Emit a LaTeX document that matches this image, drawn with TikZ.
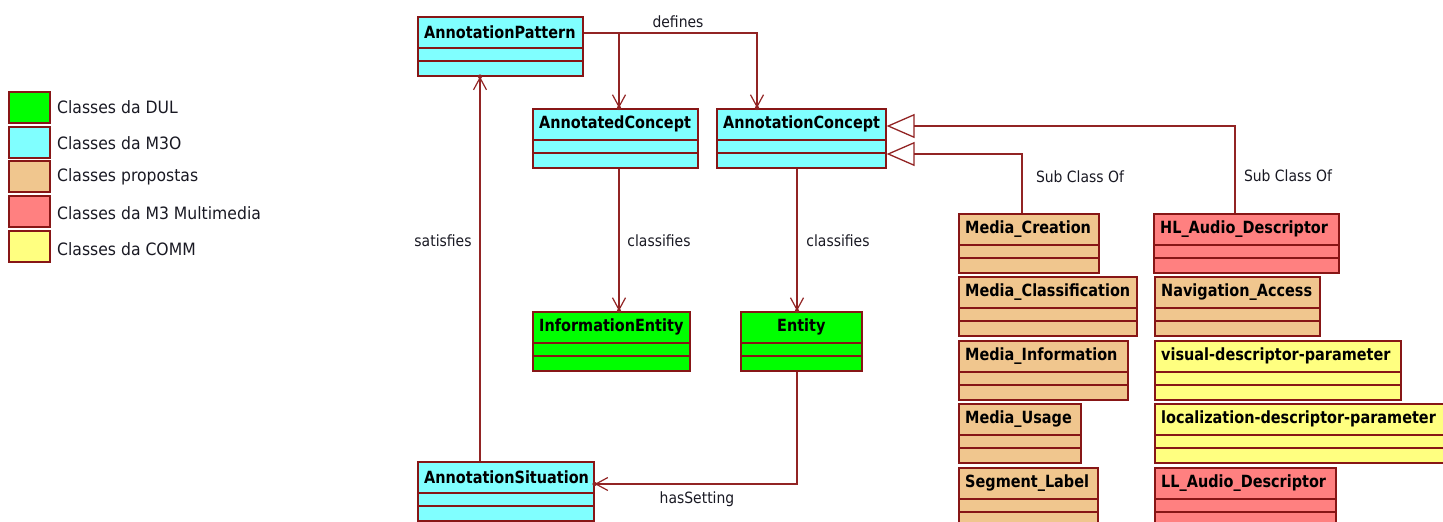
\documentclass[tikz,border=0pt]{standalone}
\usepackage{fontspec}
\usetikzlibrary{arrows.meta,calc}
\newfontfamily\titlefnt{DejaVu Sans}[FakeStretch=0.86]
\newfontfamily\labelfnt{DejaVu Sans}[FakeStretch=0.9]
\newfontfamily\legendfnt{DejaVu Sans}[FakeStretch=0.92]
\definecolor{dr}{RGB}{146,36,36}
\definecolor{boxc}{RGB}{135,22,22}
\definecolor{ccyan}{RGB}{128,255,255}
\definecolor{cgreen}{RGB}{0,255,0}
\definecolor{ctan}{RGB}{240,198,142}
\definecolor{cred}{RGB}{255,128,128}
\definecolor{cyel}{RGB}{255,255,128}
\definecolor{txt}{RGB}{25,25,35}
\newcommand\umlclass[6]{%
  \node[classbox, fill=#5, minimum width={#4-#2}, anchor=north west] (#1) at (#2,#3) {};
  \node[classtitle, anchor=west] (#1t) at ($(#1.north west)+(7,16)$) {#6};
  \draw[boxline] ($(#1.north west)+(0,32)$) -- ($(#1.north east)+(0,32)$);
  \draw[boxline] ($(#1.north west)+(0,45)$) -- ($(#1.north east)+(0,45)$);
}
\newcommand\umlclassc[6]{%
  \node[classbox, fill=#5, minimum width={#4-#2}, anchor=north west] (#1) at (#2,#3) {};
  \node[classtitle, anchor=center] (#1t) at ($(#1.north)+(0,16)$) {#6};
  \draw[boxline] ($(#1.north west)+(0,32)$) -- ($(#1.north east)+(0,32)$);
  \draw[boxline] ($(#1.north west)+(0,45)$) -- ($(#1.north east)+(0,45)$);
}
\begin{document}
\begin{tikzpicture}[x=1pt,y=-1pt,
  classbox/.style={draw=boxc, line width=1.6pt, minimum height=59pt, inner sep=0pt},
  classtitle/.style={inner sep=0pt, text=black, font=\titlefnt\bfseries\fontsize{16.8}{20}\selectfont},
  boxline/.style={draw=boxc, line width=1.5pt},
  legbox/.style={draw=boxc, line width=2pt, minimum width=41pt, minimum height=31pt, inner sep=0pt},
  legtext/.style={inner sep=0pt, text=txt, font=\legendfnt\fontsize{17}{20}\selectfont},
  lbl/.style={inner sep=0pt, text=txt, font=\labelfnt\fontsize{15.5}{18}\selectfont},
  assoc/.style={draw=dr, line width=1.5pt, -{Straight Barb[length=12pt,width=13pt,line width=1.2pt]}},
  gen/.style={draw=dr, line width=1.5pt, -{Triangle[open,length=28pt,width=24pt,fill=white,line width=1.3pt]}},
  dot/.style={fill=dr}
]
\useasboundingbox (0,0) rectangle (1443,522);

% legend
\node[legbox, fill=cgreen, anchor=north west] (lg1) at (8,91) {};
\node[legbox, fill=ccyan, anchor=north west] (lg2) at (8,126) {};
\node[legbox, fill=ctan, anchor=north west] (lg3) at (8,160) {};
\node[legbox, fill=cred, anchor=north west] (lg4) at (8,195) {};
\node[legbox, fill=cyel, anchor=north west] (lg5) at (8,230) {};
\node[legtext, anchor=west] (lt1) at (57,107) {Classes da DUL};
\node[legtext, anchor=west] (lt2) at (57,143) {Classes da M3O};
\node[legtext, anchor=west] (lt3) at (57,177) {Classes propostas};
\node[legtext, anchor=west] (lt4) at (57,213) {Classes da M3 Multimedia};
\node[legtext, anchor=west] (lt5) at (57,249) {Classes da COMM};

% classes
\umlclass{AP}{417}{16}{582}{ccyan}{AnnotationPattern}
\umlclass{AdC}{532}{108}{697}{ccyan}{AnnotatedConcept}
\umlclass{AnC}{716}{108}{885}{ccyan}{AnnotationConcept}
\umlclass{IE}{532}{311}{689}{cgreen}{InformationEntity}
\umlclassc{En}{740}{311}{861}{cgreen}{Entity}
\umlclass{AS}{417}{461}{593}{ccyan}{AnnotationSituation}
\umlclass{MC}{958}{213}{1098}{ctan}{Media\_Creation}
\umlclass{MCl}{958}{276}{1136}{ctan}{Media\_Classification}
\umlclass{MI}{958}{340}{1127}{ctan}{Media\_Information}
\umlclass{MU}{958}{403}{1080}{ctan}{Media\_Usage}
\umlclass{SL}{958}{467}{1097}{ctan}{Segment\_Label}
\umlclass{HL}{1153}{213}{1338}{cred}{HL\_Audio\_Descriptor}
\umlclass{NA}{1154}{276}{1319}{ctan}{Navigation\_Access}
\umlclass{VDP}{1154}{340}{1400}{cyel}{visual-descriptor-parameter}
\umlclass{LDP}{1154}{403}{1452}{cyel}{localization-descriptor-parameter}
\umlclass{LL}{1154}{467}{1335}{cred}{LL\_Audio\_Descriptor}

% guide coordinates
\coordinate (xd) at (757,0);
\coordinate (xc1) at (619,0);
\coordinate (xc2) at (797,0);
\coordinate (xs) at (480,0);
\coordinate (xg1) at (1022,0);
\coordinate (xg2) at (1235,0);
\coordinate (dstart) at ($(AP.north east)+(0,17)$);
\coordinate (hs) at ($(AS.north east)+(0,23)$);
\coordinate (g1e) at ($(AnC.north east)+(0,46)$);
\coordinate (g2e) at ($(AnC.north east)+(0,18)$);

% defines
\draw[assoc] (dstart) -| (xd |- AnC.north);
\draw[assoc] (dstart -| xc1) -- (xc1 |- AdC.north);
\fill[dot] (xd |- AnC.north) circle (2.2pt);
\fill[dot] (xc1 |- AdC.north) circle (2.2pt);
\node[lbl] (ldef) at (678,22) {defines};

% satisfies
\draw[assoc] (xs |- AS.north) -- (xs |- AP.south);
\fill[dot] (xs |- AP.south) circle (2.2pt);
\node[lbl] (lsat) at (443,241) {satisfies};

% classifies
\draw[assoc] (xc1 |- AdC.south) -- (xc1 |- IE.north);
\fill[dot] (xc1 |- IE.north) circle (2.2pt);
\node[lbl] (lcl1) at (659,241) {classifies};
\draw[assoc] (xc2 |- AnC.south) -- (xc2 |- En.north);
\fill[dot] (xc2 |- En.north) circle (2.2pt);
\node[lbl] (lcl2) at (838,241) {classifies};

% hasSetting
\draw[assoc] (xc2 |- En.south) |- (hs);
\fill[dot] (hs) circle (2.2pt);
\node[lbl] (lhs) at (697,499) {hasSetting};

% generalizations
\draw[gen] (xg1 |- MC.north) |- (g1e);
\draw[gen] (xg2 |- HL.north) |- (g2e);
\node[lbl] (lsc1) at (1080,177) {Sub Class Of};
\node[lbl] (lsc2) at (1288,176) {Sub Class Of};
\end{tikzpicture}
\end{document}
